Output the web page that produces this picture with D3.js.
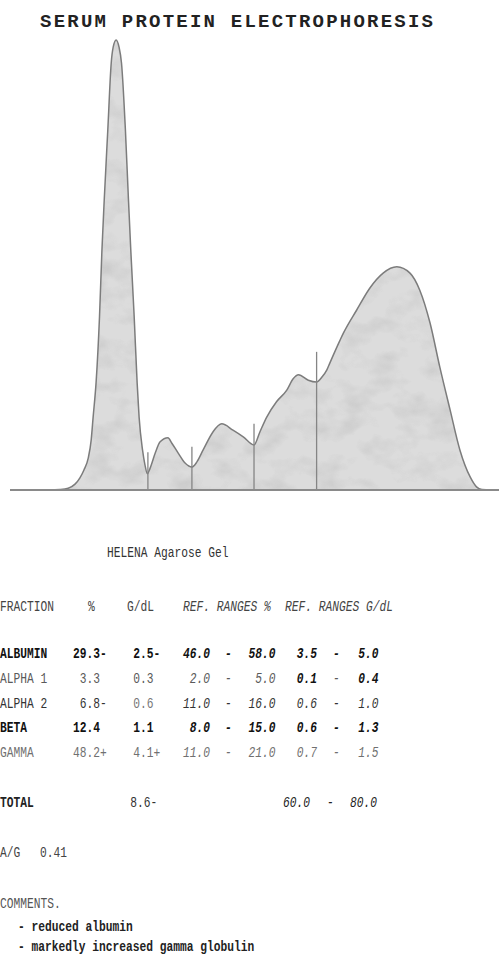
<!DOCTYPE html>
<html>
<head>
<meta charset="utf-8">
<script src="https://cdn.jsdelivr.net/npm/d3@7"></script>
<style>
  body { margin: 0; background: #fff; }
  svg { display: block; }
</style>
</head>
<body>
<svg width="499" height="956"></svg>
<script>
"use strict";

// densitometer scan: position (0-100 along the gel) and relative absorbance (0-100)
var scanPos = [0, 8.2, 10.2, 11.9, 13.3, 14.3, 15.1, 16.0, 16.6, 17.0, 17.6, 18.3, 18.8, 19.3, 20.0, 20.7, 21.1, 21.7,
    22.3, 22.8, 23.6, 24.2, 24.7, 25.4, 26.0, 26.4, 27.1, 27.6, 28.1, 28.6, 29.7, 30.7, 32.3, 33.1, 34.4, 35.8, 37.2,
    38.2, 39.5, 41.5, 43.3, 45.6, 47.7, 49.9, 51.1, 52.5, 54.5, 56.6, 57.9, 59.0, 61.0, 62.7, 63.8, 64.8, 65.4, 67.5,
    68.2, 70.9, 73.6, 76.3, 79.1, 81.8, 83.8, 85.9, 87.9, 90.0, 92.0, 94.1, 95.4, 96.5, 98.2, 100];
var scanVal = [0, 0, 0.1, 0.4, 1.3, 2.7, 4.4, 7.1, 11.1, 16.2, 23.8, 38.4, 53.3, 65.1, 80.0, 94.9, 98.4, 100,
    98.4, 94.9, 80.0, 65.1, 53.3, 38.4, 23.8, 16.2, 8.9, 5.6, 3.6, 4.7, 8.2, 10.7, 11.6, 10.4, 8.2, 6.0, 5.1,
    6.2, 8.9, 12.9, 14.7, 13.3, 11.8, 10.0, 12.9, 16.2, 19.6, 22.2, 24.7, 25.6, 24.4, 24.0, 25.1, 26.7, 28.2, 33.3,
    34.9, 40.0, 44.9, 48.2, 49.6, 48.2, 44.4, 37.1, 27.3, 17.8, 8.9, 2.9, 0.7, 0.1, 0, 0];

// fraction split marks
var splitPos = [28.2, 37.2, 49.9, 62.7];
var splitTop = [8.4, 9.6, 14.7, 30.7];

// report table
var fractions = ["ALBUMIN", "ALPHA 1", "ALPHA 2", "BETA", "GAMMA"];
var percent = ["29.3-", "3.3", "6.8-", "12.4", "48.2+"];
var gdl = ["2.5-", "0.3", "0.6", "1.1", "4.1+"];
var refPctLow = ["46.0", "2.0", "11.0", "8.0", "11.0"];
var refPctHigh = ["58.0", "5.0", "16.0", "15.0", "21.0"];
var refGLow = ["3.5", "0.1", "0.6", "0.6", "0.7"];
var refGHigh = ["5.0", "0.4", "1.0", "1.3", "1.5"];
var headers = ["FRACTION", "%", "G/dL", "REF. RANGES %", "REF. RANGES G/dL"];
var totalGdl = "8.6-";
var totalRange = ["60.0", "80.0"];
var agRatio = "0.41";
var comments = ["- reduced albumin", "- markedly increased gamma globulin"];

var svg = d3.select("svg");
var mono = "'Liberation Mono', 'DejaVu Sans Mono', monospace";

// title
svg.append("text")
    .attr("x", 40)
    .attr("y", 27)
    .attr("textLength", 393)
    .attr("lengthAdjust", "spacing")
    .style("font-family", mono)
    .style("font-size", "19px")
    .style("font-weight", "bold")
    .attr("fill", "#222")
    .text("SERUM PROTEIN ELECTROPHORESIS");

var x = d3.scaleLinear().domain([0, 100]).range([10, 499]);
var y = d3.scaleLinear().domain([0, 100]).range([490, 40]);

var scan = scanPos.map(function (p, i) { return [p, scanVal[i]]; });

var area = d3.area()
    .x(function (d) { return x(d[0]); })
    .y0(y(0))
    .y1(function (d) { return y(d[1]); })
    .curve(d3.curveMonotoneX);

var line = d3.line()
    .x(function (d) { return x(d[0]); })
    .y(function (d) { return y(d[1]); })
    .curve(d3.curveMonotoneX);

var defs = svg.append("defs");
defs.append("clipPath").attr("id", "scanClip")
    .append("path").attr("d", area(scan));

var f = defs.append("filter").attr("id", "mottle")
    .attr("x", 0).attr("y", 0).attr("width", "100%").attr("height", "100%");
f.append("feTurbulence")
    .attr("type", "fractalNoise")
    .attr("baseFrequency", "0.035 0.05")
    .attr("numOctaves", 3)
    .attr("seed", 7);
f.append("feColorMatrix")
    .attr("type", "matrix")
    .attr("values", "0 0 0 0 0.45  0 0 0 0 0.45  0 0 0 0 0.45  1.6 0 0 0 -0.72");

svg.append("path")
    .attr("d", area(scan))
    .attr("fill", "#dcdcdc");

svg.append("rect")
    .attr("x", x(0)).attr("y", y(100))
    .attr("width", x(100) - x(0)).attr("height", y(0) - y(100))
    .attr("clip-path", "url(#scanClip)")
    .attr("filter", "url(#mottle)")
    .attr("opacity", 0.55);

svg.append("path")
    .attr("d", line(scan))
    .attr("fill", "none")
    .attr("stroke", "#7c7c7c")
    .attr("stroke-width", 1.5);

svg.selectAll("line.split")
    .data(splitPos)
    .enter()
    .append("line")
    .attr("class", "split")
    .attr("x1", function (d) { return x(d); })
    .attr("x2", function (d) { return x(d); })
    .attr("y1", y(0))
    .attr("y2", function (d, i) { return y(splitTop[i]); })
    .attr("stroke", "#858585")
    .attr("stroke-width", 1.3);

svg.append("line")
    .attr("x1", x(0)).attr("x2", x(100))
    .attr("y1", y(0)).attr("y2", y(0))
    .attr("stroke", "#8a8a8a")
    .attr("stroke-width", 2);

// printed report text (condensed dot-matrix look)
var cw = 6.75;
function put(str, px, py, ink, weight, italic) {
    svg.append("text")
        .attr("x", px)
        .attr("y", py)
        .attr("textLength", str.length * cw)
        .attr("lengthAdjust", "spacingAndGlyphs")
        .style("font-family", mono)
        .style("font-size", "14.5px")
        .style("font-weight", weight || "normal")
        .style("font-style", italic ? "italic" : "normal")
        .attr("fill", ink)
        .text(str);
}
// start x so the decimal points line up
function dot(str, dotX) {
    var k = str.indexOf(".");
    return dotX - k * cw;
}

put("HELENA Agarose Gel", 107, 557, "#333");

var headX = [0, 88, 127, 183, 285];
headers.forEach(function (h, i) {
    put(h, headX[i], 611, "#444", "normal", i >= 3);
});

var rowY = d3.scaleLinear().domain([0, 4]).range([658, 757]);
var rowInk = ["#111", "#5a5a5a", "#333", "#111", "#707070"];
var rowWeight = ["bold", "normal", "normal", "bold", "normal"];

fractions.forEach(function (name, i) {
    var yy = rowY(i);
    var ink = rowInk[i], w = rowWeight[i];
    put(name, 0, yy, ink, w);
    put(percent[i], dot(percent[i], 86.5), yy, ink, w);
    put(gdl[i], dot(gdl[i], 140), yy, i === 2 ? "#777" : ink, w);
    put(refPctLow[i], dot(refPctLow[i], 196.5), yy, ink, w, true);
    put("-", 225, yy, ink, w, true);
    put(refPctHigh[i], dot(refPctHigh[i], 262), yy, ink, w, true);
    put(refGLow[i], dot(refGLow[i], 303.5), yy, i === 1 ? "#111" : ink, i === 1 ? "bold" : w, true);
    put("-", 333, yy, ink, w, true);
    put(refGHigh[i], dot(refGHigh[i], 365), yy, i === 1 ? "#111" : ink, i === 1 ? "bold" : w, true);
});

put("TOTAL", 0, 807, "#222", "bold");
put(totalGdl, dot(totalGdl, 137), 807, "#333");
put(totalRange[0], 283, 807, "#222", "normal", true);
put("-", 327, 807, "#222", "normal", true);
put(totalRange[1], 350, 807, "#222", "normal", true);

put("A/G", 0, 857, "#444");
put(agRatio, 40, 857, "#444");

put("COMMENTS.", 0, 908, "#555");
comments.forEach(function (c, i) {
    put(c, 18, 931 + i * 20, "#222", "bold");
});
</script>
</body>
</html>
